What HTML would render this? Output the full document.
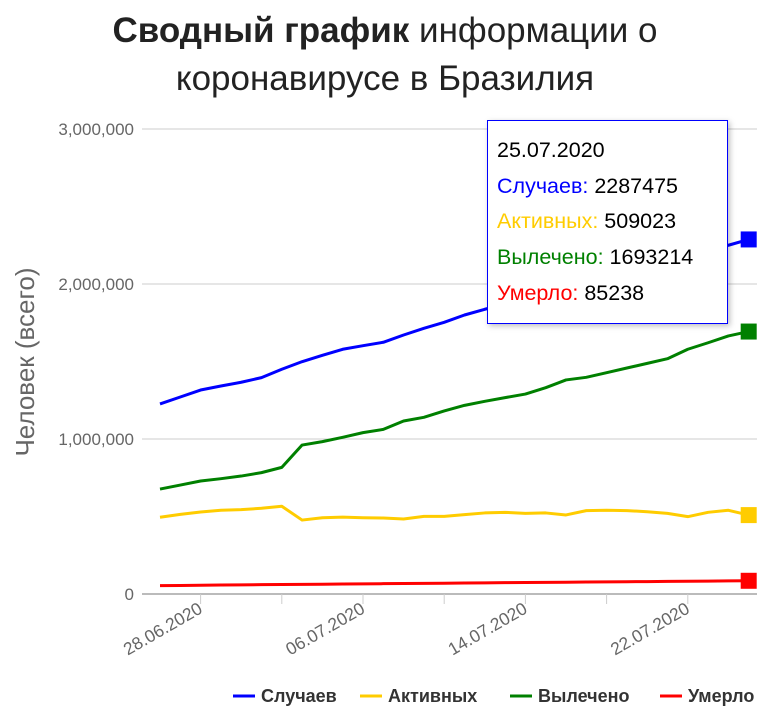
<!DOCTYPE html>
<html><head><meta charset="utf-8"><style>
body{margin:0;background:#fff;}
svg{display:block;font-family:"Liberation Sans","DejaVu Sans",sans-serif;}
</style></head><body>
<svg id="chart" width="771" height="712" viewBox="0 0 771 712" xmlns="http://www.w3.org/2000/svg">
<g text-anchor="middle" font-size="35" fill="#222">
<text x="385" y="42"><tspan font-weight="bold">Сводный график</tspan> информации о</text>
<text x="385" y="90">коронавирусе в Бразилия</text>
</g>
<text transform="translate(34,362) rotate(-90)" text-anchor="middle" font-size="26" fill="#666">Человек (всего)</text>
<g id="grid"></g><g id="series"></g>
<g>
<rect x="487.5" y="120.5" width="240" height="203" fill="#fff" stroke="#0000ff" stroke-width="1" style="filter:drop-shadow(2px 2px 3px rgba(0,0,0,0.25))"/>
<g font-size="21.5">
<text x="497" y="157" fill="#000">25.07.2020</text>
<text x="497" y="193" fill="#0000ff">Случаев:  <tspan fill="#000">2287475</tspan></text>
<text x="497" y="228" fill="#ffcc00">Активных:  <tspan fill="#000">509023</tspan></text>
<text x="497" y="264" fill="#008000">Вылечено:  <tspan fill="#000">1693214</tspan></text>
<text x="497" y="300" fill="#ff0000">Умерло:  <tspan fill="#000">85238</tspan></text>
</g></g>
<g id="legend" font-size="18" font-weight="bold" fill="#333"></g>
</svg>
<script>
const dates=["26.06.2020","27.06.2020","28.06.2020","29.06.2020","30.06.2020","01.07.2020","02.07.2020","03.07.2020","04.07.2020","05.07.2020","06.07.2020","07.07.2020","08.07.2020","09.07.2020","10.07.2020","11.07.2020","12.07.2020","13.07.2020","14.07.2020","15.07.2020","16.07.2020","17.07.2020","18.07.2020","19.07.2020","20.07.2020","21.07.2020","22.07.2020","23.07.2020","24.07.2020","25.07.2020"];
const cases=[1226000,1271000,1316000,1342000,1366000,1396000,1450000,1499000,1540000,1579000,1602000,1624000,1671000,1714000,1753000,1800000,1837000,1870000,1910000,1930000,1970000,2010000,2050000,2080000,2100000,2120000,2160000,2230000,2250000,2287475];
const active=[495000,514000,529000,540000,544000,553000,566000,477000,492000,496000,492000,490000,484000,501000,501000,512000,523000,527000,520000,523000,510000,538000,540000,538000,531000,520000,499000,527000,540000,509023];
const recovered=[677000,703000,729000,744000,761000,783000,817000,961000,983000,1011000,1041000,1062000,1116000,1140000,1181000,1217000,1243000,1267000,1290000,1331000,1381000,1398000,1428000,1458000,1488000,1518000,1579000,1621000,1665000,1693214];
const deaths=[53900,55100,56500,57900,59000,60100,61100,62100,63200,64300,65300,66600,67700,68800,69700,70700,71800,73000,74200,75200,76200,77100,78000,79100,80100,81200,82300,83400,84500,85238];
const yTicks=[0,1000000,2000000,3000000];
const yTickLabels=["0","1,000,000","2,000,000","3,000,000"];
const xTickIdx=[2,6,10,14,18,22,26];
const xLabelIdx=[2,10,18,26];
const NS="http://www.w3.org/2000/svg";
const X=i=>160+i*20.3;
const Y=v=>594-v/1000000*155;
function mk(t,a,p){const e=document.createElementNS(NS,t);for(const k in a)e.setAttribute(k,a[k]);p.appendChild(e);return e;}
const grid=document.getElementById('grid');
yTicks.forEach((v,i)=>{
 const l=mk('line',{x1:142,x2:757,y1:Y(v),y2:Y(v),stroke:i==0?'#bbb':'#ccc','stroke-width':i==0?2:1},grid);
 
 
 const t=mk('text',{x:134,y:Y(v)+6,'text-anchor':'end','font-size':17,fill:'#666'},grid);
 t.textContent=yTickLabels[i];
 
 
});
xTickIdx.forEach(i=>{
 const l=mk('line',{x1:X(i),x2:X(i),y1:594,y2:604,stroke:'#ccc','stroke-width':1},grid);
 
 
});
xLabelIdx.forEach(i=>{
 const t=mk('text',{transform:`translate(${X(i)+3},612) rotate(-30)`,'text-anchor':'end','font-size':17.5,fill:'#666'},grid);
 t.textContent=dates[i];
 
 
});
const ser=document.getElementById('series');
const S=[["cases",cases,"#0000ff","Случаев",233],["active",active,"#ffcc00","Активных",360],["recovered",recovered,"#008000","Вылечено",510],["deaths",deaths,"#ff0000","Умерло",660]];
const order=[3,1,2,0];
order.forEach(k=>{const [n,d,c]=S[k];
 const p=mk('polyline',{points:d.map((v,i)=>X(i)+','+Y(v)).join(' '),fill:'none',stroke:c,'stroke-width':3,'stroke-linejoin':'round'},ser);
 
 
 const last=d.length-1;
 const m=mk('rect',{x:X(last)-8,y:Y(d[last])-8,width:16,height:16,fill:c},ser);
 
 
});
const lg=document.getElementById('legend');
S.forEach(([n,d,c,lab,lx])=>{
 const g=mk('g',{},lg);
 
 
 mk('line',{x1:lx,x2:lx+22,y1:696,y2:696,stroke:c,'stroke-width':3},g);
 const t=mk('text',{x:lx+28,y:702},g);t.textContent=lab;
});
</script>
</body></html>
